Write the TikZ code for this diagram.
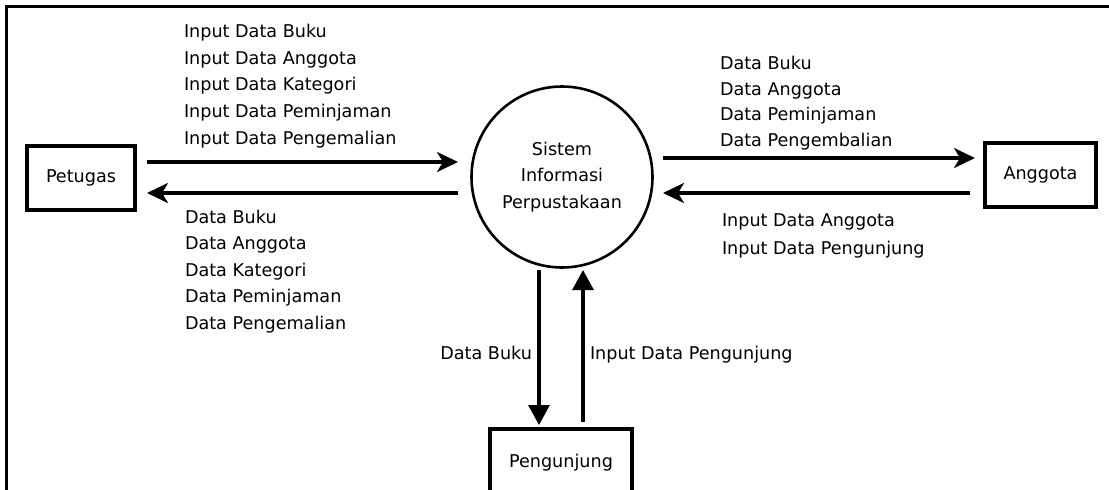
\documentclass[tikz,border=0pt]{standalone}
\usepackage{fontspec}
\setmainfont{DejaVu Sans}
\usetikzlibrary{arrows.meta}
\newcommand{\lblfont}[1]{\fontsize{17.6}{#1}\selectfont}
\begin{document}
\begin{tikzpicture}[x=1pt,y=-1pt,
  every node/.style={inner sep=0pt, outer sep=0pt, font=\lblfont{26.5}},
  entity/.style={draw, rectangle, line width=3.2pt},
  process/.style={draw, circle, line width=2.6pt, minimum size=181pt, align=center},
  flowh/.style={line width=3.2pt, -{Stealth[length=21pt,width=20pt,inset=6pt]}},
  flowv/.style={line width=3.2pt, -{Triangle[length=20pt,width=21pt]}},
  lbl/.style={anchor=north west, align=left},
]
\useasboundingbox (0,0) rectangle (1109,490);
\clip (0,0) rectangle (1109,490);

% outer frame (top and left edges)
\draw[line width=3pt] (1109,6) -- (6,6) -- (6,490);

% external entities and the process
\node[entity, minimum width=108pt, minimum height=64pt] (pet) at (81,178) {Petugas};
\node[process] (sys) at (562,177) {Sistem\\Informasi\\Perpustakaan};
\node[entity, minimum width=111pt, minimum height=64pt] (ang) at (1040.5,175) {Anggota};
\node[entity, minimum width=142pt, minimum height=68pt] (pen) at (561,463) {Pengunjung};

% data flows
\draw[flowh, shorten <=12pt, shorten >=13.5pt] (pet.east |- 0,162) -- (sys.west |- 0,162);
\draw[flowh, shorten <=13.5pt, shorten >=12pt] (sys.west |- 0,193) -- (pet.east |- 0,193);
\draw[flowh, shorten <=10.5pt, shorten >=10pt] (sys.east |- 0,158) -- (ang.west |- 0,158);
\draw[flowh, shorten <=15pt, shorten >=10.5pt] (ang.west |- 0,193) -- (sys.east |- 0,193);
\draw[flowv, shorten <=2.5pt, shorten >=4pt] (sys.south -| 539,0) -- (pen.north -| 539,0);
\draw[flowv, shorten <=7pt, shorten >=2.5pt] (pen.north -| 583,0) -- (sys.south -| 583,0);

% flow labels
\node[lbl, font=\lblfont{26.75}] (inPet) at (184,24)
  {Input Data Buku\\Input Data Anggota\\Input Data Kategori\\Input Data Peminjaman\\Input Data Pengemalian};
\node[lbl, font=\lblfont{26.5}] (outPet) at (185,210)
  {Data Buku\\Data Anggota\\Data Kategori\\Data Peminjaman\\Data Pengemalian};
\node[lbl, font=\lblfont{25.7}] (outAng) at (720,56)
  {Data Buku\\Data Anggota\\Data Peminjaman\\Data Pengembalian};
\node[lbl, font=\lblfont{27.5}] (inAng) at (722,214)
  {Input Data Anggota\\Input Data Pengunjung};
\node[anchor=base east] (outPen) at (532,359.3) {Data Buku};
\node[anchor=base west] (inPen) at (590,359.3) {Input Data Pengunjung};
\end{tikzpicture}
\end{document}
